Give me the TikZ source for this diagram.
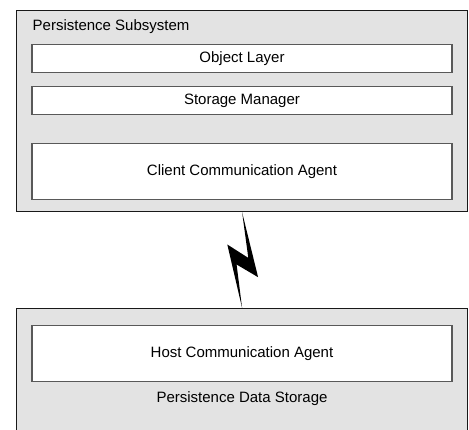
\documentclass[tikz,border=0pt]{standalone}
\usepackage{fontspec}
\setmainfont{Liberation Sans}
\usepackage{tikz}
\usetikzlibrary{positioning,calc}

\begin{document}
\begin{tikzpicture}[
      x=1pt, y=-1pt,
      font=\fontsize{15}{18}\selectfont,
      outerbox/.style={rectangle, draw=black!90, fill=black!11, line width=1.2pt,
        anchor=north west, minimum width=451pt, inner sep=0pt},
      layer/.style={rectangle, draw=black!65, fill=white, line width=1.1pt,
        minimum width=420pt, inner sep=0pt, align=center},
      bolt/.style={fill=black},
    ]
    \useasboundingbox (0,0) rectangle (469,430);

    % client side
    \node[outerbox, minimum height=201pt] (sub) at (16,10) {};
    \node[anchor=west, inner sep=0pt] (subtitle) at (32.5,26.5) {Persistence Subsystem};
    \node[layer, minimum height=28pt] (objlayer)    at (242,58.2)  {Object Layer};
    \node[layer, minimum height=28pt] (storemgr)    at (242,100.7) {Storage Manager};
    \node[layer, minimum height=56pt] (clientagent) at (242,171.3) {Client Communication Agent};

    % host side
    \node[outerbox, minimum height=140pt] (store) at (16,308) {};
    \node[layer, minimum height=56pt] (hostagent) at (242,353.8) {Host Communication Agent};
    \node[inner sep=0pt] (storetitle) at (242,398.7) {Persistence Data Storage};

    % link between the two
    \fill[bolt] (sub.south) -- ($(sub.south)+(16,65)$) -- ($(sub.south)+(-5.5,52.3)$)
      -- (store.north) -- ($(sub.south)+(-14.8,32.3)$) -- ($(sub.south)+(6.2,45.7)$) -- cycle;
  \end{tikzpicture}
\end{document}
